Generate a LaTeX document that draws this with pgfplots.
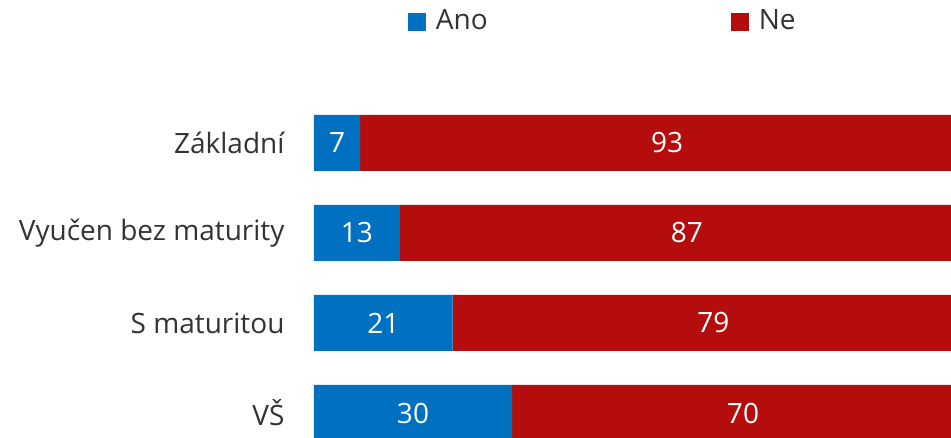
\documentclass[border=0pt]{standalone}
\usepackage{fontspec}
\setmainfont{Open Sans}
\usepackage{pgfplots}
\pgfplotsset{compat=1.18}
\definecolor{ano}{HTML}{0070C0}
\definecolor{ne}{HTML}{B50D0D}
\definecolor{txt}{HTML}{333333}

\begin{document}
\fontsize{28}{34}\selectfont
\begin{tikzpicture}
\useasboundingbox (0,0) rectangle (951pt,438pt);
% bars (plot area runs past the right edge, as in the original)
\begin{axis}[
    at={(314pt,0pt)}, anchor=south west,
    scale only axis, width=660pt, height=438pt,
    xmin=0, xmax=100, ymin=0, ymax=438, y dir=reverse,
    xbar stacked, bar width=56pt,
    axis line style={draw=none},
    xtick=\empty,
    ytick={143,233,323,413},
    yticklabels={Základní, Vyučen bez maturity, S maturitou, VŠ},
    major tick length=0pt,
    yticklabel style={text=txt, xshift=-20pt},
    legend columns=-1,
    legend style={at={(0.1424,0.95)}, anchor=west, draw=none, fill=none,
        inner sep=0pt, outer sep=0pt, text=txt,
        /tikz/every even column/.append style={column sep=241pt}},
    legend image code/.code={\fill[#1] (0pt,-9pt) rectangle (18pt,9pt);
        \path (26pt,0pt);},
]
\addplot[fill=ano, draw=none] coordinates {(7,143) (13,233) (21,323) (30,413)};
\addplot[fill=ne, draw=none] coordinates {(93,143) (87,233) (79,323) (70,413)};
\legend{Ano, Ne}
\end{axis}
% value labels
\begin{axis}[
    at={(314pt,0pt)}, anchor=south west,
    scale only axis, width=660pt, height=438pt,
    xmin=0, xmax=100, ymin=0, ymax=438, y dir=reverse,
    hide axis,
    nodes near coords,
    point meta=explicit symbolic,
    every node near coord/.append style={anchor=center, text=white},
]
\addplot[draw=none, mark=none] coordinates {
    (3.5,143) [7] (6.5,233) [13] (10.5,323) [21] (15,413) [30]};
\addplot[draw=none, mark=none] coordinates {
    (53.5,143) [93] (56.5,233) [87] (60.5,323) [79] (65,413) [70]};
\end{axis}
\end{tikzpicture}
\end{document}
